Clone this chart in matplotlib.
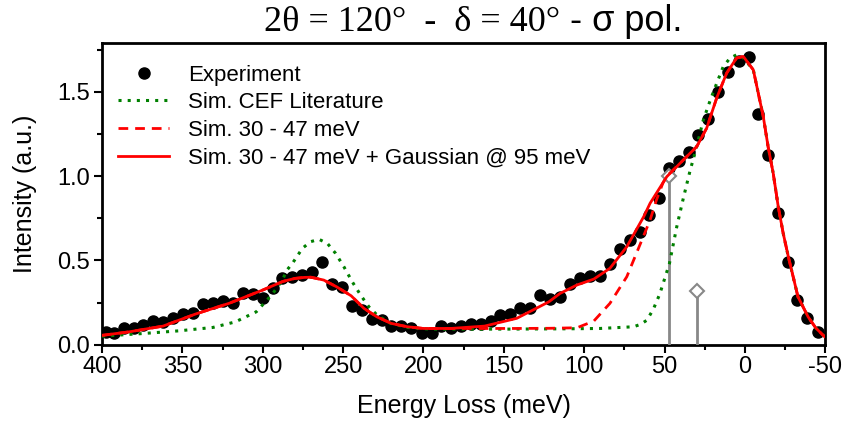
import matplotlib
matplotlib.use('Agg')
import matplotlib.pyplot as plt
from matplotlib.ticker import MultipleLocator

plt.rcParams['font.family'] = ['Liberation Sans', 'DejaVu Sans']
plt.rcParams['axes.unicode_minus'] = False

# experiment (energy loss in meV, intensity in a.u.)
exp_e = [397.5, 392.5, 386.5, 380.4, 374.2, 368.1, 361.9, 355.7, 349.5, 343.3,
         337.3, 331.1, 324.8, 318.6, 312.4, 306.2, 300.0, 293.8, 287.8, 281.6,
         275.3, 269.1, 263.4, 257.1, 250.9, 244.7, 238.5, 232.3, 226.1, 219.9,
         213.7, 207.5, 201.2, 195.0, 188.8, 182.6, 176.4, 170.2, 164.0, 157.8,
         152.2, 146.0, 139.8, 133.5, 127.3, 121.1, 114.9, 108.7, 102.5, 96.3,
         90.1, 83.9, 77.6, 71.4, 65.2, 59.4, 53.2, 47.3, 41.1, 34.8,
         29.0, 22.8, 16.6, 10.4, 3.7, -2.5, -7.9, -14.5, -20.3, -26.5,
         -32.7, -38.9, -45.2]
exp_i = [0.076, 0.070, 0.101, 0.099, 0.116, 0.138, 0.134, 0.160, 0.179, 0.185,
         0.244, 0.245, 0.257, 0.248, 0.308, 0.299, 0.276, 0.339, 0.395, 0.404,
         0.415, 0.431, 0.488, 0.359, 0.340, 0.231, 0.207, 0.152, 0.144, 0.108,
         0.110, 0.096, 0.068, 0.068, 0.108, 0.096, 0.108, 0.121, 0.125, 0.140,
         0.175, 0.183, 0.215, 0.215, 0.294, 0.269, 0.280, 0.359, 0.393, 0.407,
         0.407, 0.478, 0.567, 0.621, 0.670, 0.769, 0.870, 1.047, 1.092, 1.141,
         1.245, 1.340, 1.502, 1.621, 1.686, 1.706, 1.368, 1.126, 0.783, 0.488,
         0.264, 0.159, 0.076]

# Sim. CEF literature
cef_e = [400, 373, 352, 331, 317, 304, 294, 288, 284.7, 281, 275.3, 270.2, 265,
         259.8, 254.7, 249.5, 244.3, 239.1, 234, 228.8, 220.5, 210, 196, 150, 110,
         90, 69.4, 65, 61, 57, 53, 50, 47, 42.4, 38.3, 34.2, 30, 26, 21.6, 17.6,
         13.5, 9.3, 5.2, 2, -5.2, -11.4, -14.5, -17.6, -20.7, -23.8, -27, -33,
         -39.3, -44, -48.6, -50]
cef_i = [0.050, 0.067, 0.082, 0.102, 0.135, 0.195, 0.300, 0.380, 0.445, 0.490,
         0.572, 0.611, 0.625, 0.601, 0.542, 0.462, 0.373, 0.294, 0.225, 0.175,
         0.126, 0.102, 0.092, 0.092, 0.094, 0.096, 0.106, 0.120, 0.145, 0.210,
         0.300, 0.390, 0.480, 0.700, 0.870, 1.030, 1.175, 1.330, 1.450, 1.550,
         1.650, 1.700, 1.720, 1.712, 1.631, 1.354, 1.170, 1.017, 0.820, 0.661,
         0.522, 0.284, 0.165, 0.100, 0.056, 0.045]

# Sim. 30 - 47 meV
sim_e = [400, 383, 362, 342, 321, 300, 287.5, 280, 274, 270, 262, 254, 245, 237,
         229, 220, 210, 200, 183, 162, 142, 122, 104.5, 94, 84, 73.5, 65, 59, 55,
         51, 48.6, 38.3, 30, 23.8, 17.6, 11.4, 5.2, 1, -5.2, -11.4, -14.5, -17.6,
         -20.7, -23.8, -27, -33, -39.3, -44, -48.6, -50]
sim_i = [0.055, 0.076, 0.110, 0.181, 0.245, 0.324, 0.375, 0.393, 0.399, 0.400,
         0.383, 0.343, 0.290, 0.215, 0.165, 0.126, 0.106, 0.096, 0.096, 0.096,
         0.096, 0.097, 0.100, 0.140, 0.245, 0.403, 0.600, 0.740, 0.860, 0.960,
         1.000, 1.096, 1.175, 1.285, 1.463, 1.611, 1.701, 1.710, 1.631, 1.354,
         1.170, 1.017, 0.820, 0.661, 0.522, 0.284, 0.165, 0.100, 0.056, 0.045]

# Sim. 30 - 47 meV + Gaussian @ 95 meV
gau_e = [400, 383, 362, 342, 321, 300, 287.5, 280, 274, 270, 262, 254, 245, 237,
         229, 220, 210, 200, 183, 162, 142, 122, 115, 104.5, 94, 84, 73.5, 63, 59,
         48.6, 38.3, 30, 23.8, 17.6, 11.4, 5.2, 1, -5.2, -11.4, -14.5, -17.6,
         -20.7, -23.8, -27, -33, -39.3, -44, -48.6, -50]
gau_i = [0.055, 0.076, 0.110, 0.181, 0.245, 0.324, 0.375, 0.393, 0.399, 0.400,
         0.383, 0.343, 0.290, 0.215, 0.165, 0.126, 0.106, 0.096, 0.096, 0.110,
         0.156, 0.254, 0.304, 0.354, 0.389, 0.453, 0.581, 0.759, 0.839, 0.997,
         1.096, 1.175, 1.285, 1.463, 1.611, 1.701, 1.710, 1.631, 1.354, 1.170,
         1.017, 0.820, 0.661, 0.522, 0.284, 0.165, 0.100, 0.056, 0.045]

# CEF levels
lev_e = [47, 30]
lev_i = [1.0, 0.32]

fig = plt.figure(figsize=(8.43, 4.26), dpi=100)
ax = fig.add_axes([0.121, 0.191, 0.858, 0.708])

ax.plot(exp_e, exp_i, 'o', color='black', markersize=8, label='Experiment', zorder=2)
for e, h in zip(lev_e, lev_i):
    ax.plot([e, e], [0, h], color='#888888', lw=2, zorder=3)
ax.plot(lev_e, lev_i, 'D', ms=7.5, mfc='white', mec='#888888', mew=1.5, ls='none', zorder=3)
ax.plot(cef_e, cef_i, color='#008000', ls=(0, (1, 2)), lw=2.2, label='Sim. CEF Literature', zorder=4)
ax.plot(sim_e, sim_i, color='red', ls=(0, (3.5, 2.5)), lw=2, label='Sim. 30 - 47 meV', zorder=5)
ax.plot(gau_e, gau_i, color='red', lw=2, label='Sim. 30 - 47 meV + Gaussian @ 95 meV', zorder=6)

ax.set_xlim(400, -50)
ax.set_ylim(0, 1.79)
ax.xaxis.set_major_locator(MultipleLocator(50))
ax.xaxis.set_minor_locator(MultipleLocator(25))
ax.yaxis.set_major_locator(MultipleLocator(0.5))
ax.yaxis.set_minor_locator(MultipleLocator(0.25))
ax.yaxis.set_major_formatter(plt.FormatStrFormatter('%.1f'))
ax.tick_params(which='both', direction='out', width=1.5, labelsize=17, top=False, right=False)
ax.tick_params(axis='x', which='major', length=6, pad=2)
ax.tick_params(axis='y', which='major', length=6, pad=3)
ax.tick_params(which='minor', length=3.5)
for s in ax.spines.values():
    s.set_linewidth(2)

ax.set_xlabel('Energy Loss (meV)', fontsize=18, labelpad=12)
ax.set_ylabel('Intensity (a.u.)', fontsize=18, labelpad=14)

ax.legend(loc='upper left', bbox_to_anchor=(-0.005, 0.995), frameon=False, fontsize=16,
          handlelength=2.3, handletextpad=0.85, labelspacing=0.3, borderaxespad=0.5)

fig.text(0.664, 1 - 31 / 426, '2θ = 120°  -  δ = 40°', family=['Liberation Serif', 'DejaVu Serif'],
         fontsize=26, ha='right', va='baseline')
fig.text(0.664, 1 - 31 / 426, ' - σ pol.', fontsize=26, ha='left', va='baseline')

fig.savefig('out.png', dpi=100)
